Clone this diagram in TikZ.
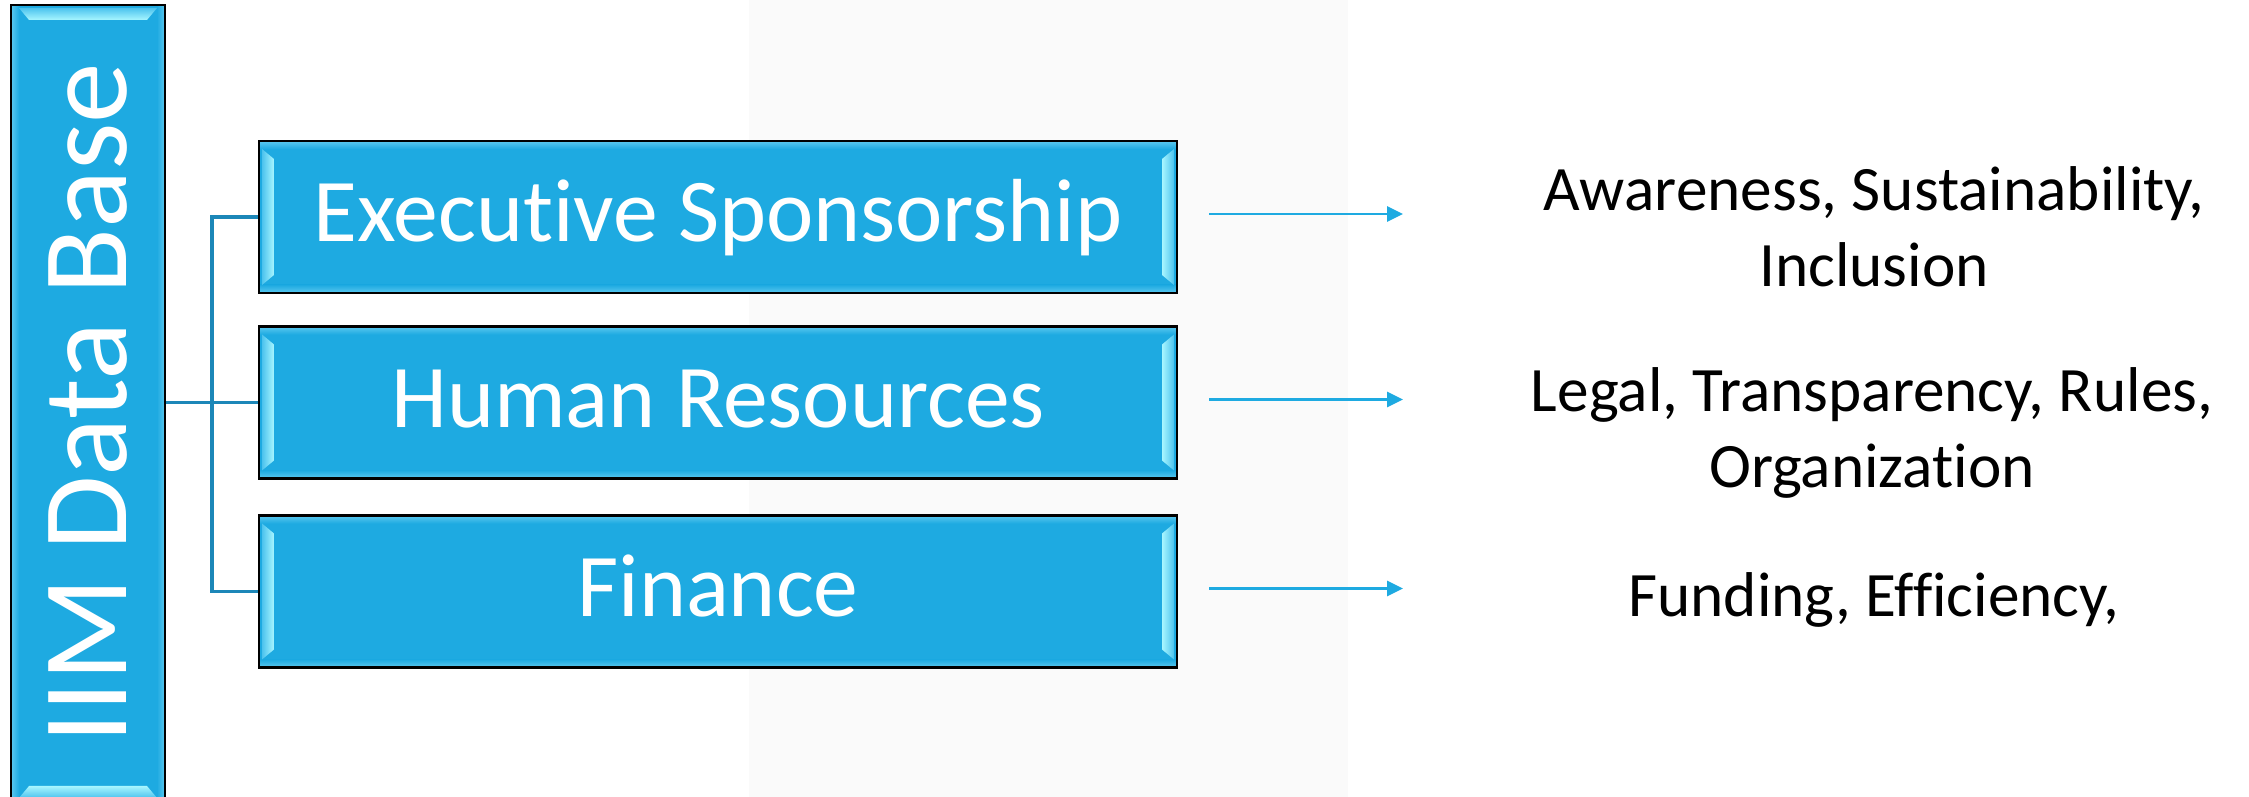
\documentclass[tikz,border=0pt]{standalone}
\usepackage{fontspec}
\setmainfont{Carlito}[Ligatures=NoCommon]
\usetikzlibrary{arrows.meta, calc}
\definecolor{skyfill}{HTML}{1EAAE1}
\definecolor{skyedge}{HTML}{4CC3EE}
\definecolor{skyglow}{HTML}{A8F6FF}
\definecolor{skyrim}{HTML}{5BC8EF}
\definecolor{linkblue}{HTML}{1C87B8}
\definecolor{panelgray}{HTML}{FAFAFA}

\begin{document}
\begin{tikzpicture}
  \tikzstyle{bevel}=[draw=black, line width=0.7pt, fill=skyfill,
    text=white, inner sep=0pt]
  % boxes: bright strips on the left and right ends
  \tikzstyle{sidebevel}=[bevel, path picture={
      \coordinate (sw) at (path picture bounding box.south west);
      \coordinate (ne) at (path picture bounding box.north east);
      \shade[top color=skyrim, bottom color=skyfill]
        ($(sw|-ne)+(0,-0.08)$) rectangle (ne);
      \shade[bottom color=skyrim, top color=skyfill]
        (sw) rectangle ($(ne|-sw)+(0,0.08)$);
      \shade[left color=skyedge, right color=skyglow]
        ($(sw)+(0.03,0.08)$) -- ++(0.12,0.10) --
        ($(sw|-ne)+(0.15,-0.18)$) -- ++(-0.12,0.10) -- cycle;
      \shade[left color=skyglow, right color=skyedge]
        ($(ne)+(-0.03,-0.08)$) -- ++(-0.12,-0.10) --
        ($(ne|-sw)+(-0.15,0.18)$) -- ++(0.12,-0.10) -- cycle;
    }]
  % upright bar: the strips sit at the top and bottom
  \tikzstyle{endbevel}=[bevel, path picture={
      \coordinate (sw) at (path picture bounding box.south west);
      \coordinate (ne) at (path picture bounding box.north east);
      \shade[left color=skyrim, right color=skyfill]
        (sw) rectangle ($(sw|-ne)+(0.08,0)$);
      \shade[right color=skyrim, left color=skyfill]
        ($(ne|-sw)+(-0.08,0)$) rectangle (ne);
      \shade[top color=skyedge, bottom color=skyglow]
        ($(sw|-ne)+(0.08,-0.03)$) -- ++(0.10,-0.12) --
        ($(ne)+(-0.18,-0.15)$) -- ++(0.10,0.12) -- cycle;
      \shade[bottom color=skyedge, top color=skyglow]
        ($(sw)+(0.08,0.03)$) -- ++(0.10,0.12) --
        ($(ne|-sw)+(-0.18,0.15)$) -- ++(0.10,-0.12) -- cycle;
    }]
  \tikzstyle{unit}=[sidebevel, minimum width=9.18cm, minimum height=1.52cm,
    text height=19pt, text depth=5pt,
    font=\fontsize{25.5}{30}\selectfont]
  \tikzstyle{note}=[align=center, font=\fontsize{18}{21.6}\selectfont]
  \tikzstyle{link}=[linkblue, line width=1.1pt]
  \tikzstyle{flow}=[-{Triangle[length=1.6mm,width=1.5mm]},
    line width=0.8pt, skyfill]

  \useasboundingbox (0,0) rectangle (22.49,7.97);
  \fill[panelgray] (7.49,0) rectangle (13.48,7.97);

  \node[endbevel, minimum width=1.54cm, minimum height=7.96cm,
    font=\fontsize{34.5}{40}\selectfont] (bar) at (0.88,3.94)
    {\rotatebox{90}{IIM Data Base}};

  \node[unit] (ex)  at (7.18,5.80)  {Executive Sponsorship};
  \node[unit] (hr)  at (7.18,3.945) {Human Resources};
  \node[unit] (fin) at (7.18,2.055) {Finance};

  \node[note] (exnote)  at (18.74,5.70)  {Awareness, Sustainability,\\Inclusion};
  \node[note] (hrnote)  at (18.72,3.64)  {Legal, Transparency, Rules,\\Organization};
  \node[note] (finnote) at (18.74,1.975) {Funding, Efficiency,};

  % tree from the bar to the three units
  \coordinate (split) at (2.12,0);
  \draw[link] (bar.east |- hr) -- (hr.west);
  \draw[link] (ex.west) -- (ex.west -| split) -- (fin.west -| split) -- (fin.west);

  % arrows out to the notes
  \coordinate (tip) at (14.03,0);
  \draw[flow] ([xshift=3.1mm,yshift=0.3mm]ex.east)  -- ([yshift=0.3mm]ex.east -| tip);
  \draw[flow] ([xshift=3.1mm,yshift=0.3mm]hr.east)  -- ([yshift=0.3mm]hr.east -| tip);
  \draw[flow] ([xshift=3.1mm,yshift=0.3mm]fin.east) -- ([yshift=0.3mm]fin.east -| tip);
\end{tikzpicture}
\end{document}
